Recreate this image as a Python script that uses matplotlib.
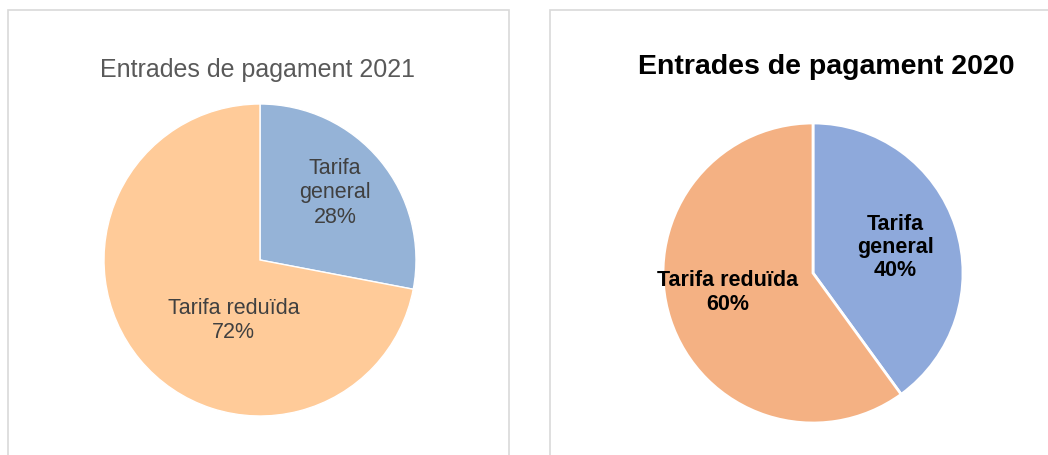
import matplotlib
matplotlib.use("Agg")
import matplotlib.pyplot as plt
from matplotlib.patches import Rectangle

# ---- data ----
categories = ["Tarifa general", "Tarifa reduïda"]
label_lines = ["Tarifa\ngeneral", "Tarifa reduïda"]
values_2021 = [28, 72]
values_2020 = [40, 60]
title_2021 = "Entrades de pagament 2021"
title_2020 = "Entrades de pagament 2020"

# ---- style ----
colors_2021 = ["#95B3D7", "#FFCB99"]
colors_2020 = ["#8EA9DB", "#F4B183"]
W, H = 1048, 455
fig = plt.figure(figsize=(W / 100, H / 100), dpi=100)
fig.patch.set_facecolor("white")

def px_axes(left, top, width, height):
    return fig.add_axes([left / W, 1 - (top + height) / H, width / W, height / H])

# panel borders
for (x0, x1) in [(8, 509), (550, 1060)]:
    fig.patches.append(Rectangle((x0 / W, -0.05), (x1 - x0) / W, 1.05 - 10 / H,
                                 transform=fig.transFigure, fill=False,
                                 edgecolor="#D9D9D9", linewidth=1.2))

font = "Liberation Sans"

def draw_pie(ax, values, colors, label_pos, txtcolor, weight, fsize, edge_lw, ls):
    wedges, _ = ax.pie(values, colors=colors, startangle=90, counterclock=False,
                       radius=1.0, wedgeprops=dict(edgecolor="white", linewidth=edge_lw))
    for lbl, v, (lx, ly) in zip(label_lines, values, label_pos):
        ax.text(lx, ly, f"{lbl}\n{v}%", ha="center", va="center", color=txtcolor,
                fontsize=fsize, fontweight=weight, family=font, linespacing=ls)
    ax.set_xlim(-1, 1)
    ax.set_ylim(-1, 1)
    ax.set_aspect("equal")
    ax.axis("off")

# left pie: center (260,260), r=156
ax1 = px_axes(104, 104, 312, 312)
draw_pie(ax1, values_2021, colors_2021, [(0.48, 0.43), (-0.17, -0.39)],
         "#404040", "normal", 15.5, 1.0, 1.2)
fig.text(258 / W, 1 - 70 / H, title_2021, ha="center", va="center",
         color="#595959", fontsize=18, family=font)

# right pie: center (813,273), r=150
ax2 = px_axes(663, 123, 300, 300)
draw_pie(ax2, values_2020, colors_2020, [(0.55, 0.17), (-0.57, -0.13)],
         "black", "bold", 15.5, 2.0, 1.15)
fig.text(826 / W, 1 - 67 / H, title_2020, ha="center", va="center",
         color="black", fontsize=20.5, fontweight="bold", family=font)

fig.savefig("out.png", dpi=100, facecolor="white")
